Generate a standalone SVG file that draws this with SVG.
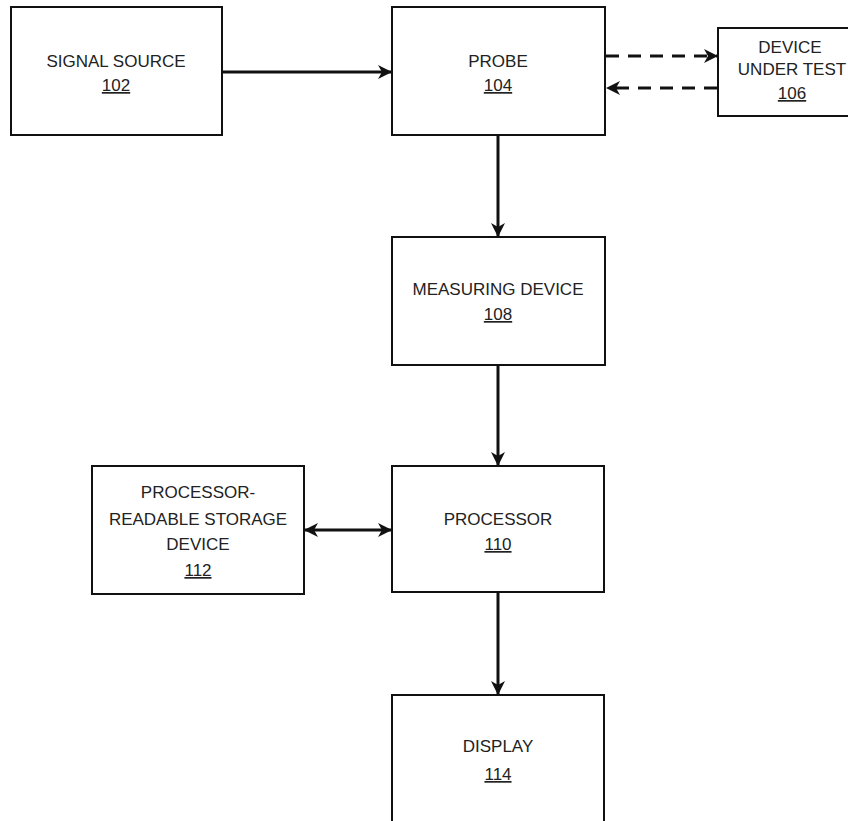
<svg xmlns="http://www.w3.org/2000/svg" width="848" height="821" viewBox="0 0 848 821">
<style>
.box{fill:#fff;stroke:#111;stroke-width:2}
.t{font-family:"Liberation Sans",Arial,sans-serif;font-size:17px;fill:#222;text-anchor:middle}
.n{text-decoration:underline}
.c{stroke:#111;stroke-width:3;fill:none}
.d{stroke:#111;stroke-width:3;fill:none;stroke-dasharray:13 9}
</style>
<defs>
<marker id="ah" viewBox="0 0 14 14" refX="13" refY="7" markerWidth="14" markerHeight="14" markerUnits="userSpaceOnUse" orient="auto-start-reverse">
<path d="M0,0 L14,7 L0,14 L4,7 z" fill="#111"/>
</marker>
</defs>
<rect width="848" height="821" fill="#fff"/>
<g id="connectors">
<line class="c" x1="223" y1="72" x2="391" y2="72" marker-end="url(#ah)"/>
<line class="d" x1="606" y1="56" x2="717" y2="56" marker-end="url(#ah)"/>
<line class="d" x1="717" y1="88" x2="607" y2="88" marker-end="url(#ah)"/>
<line class="c" x1="498" y1="136" x2="498" y2="236" marker-end="url(#ah)"/>
<line class="c" x1="498" y1="365" x2="498" y2="465" marker-end="url(#ah)"/>
<line class="c" x1="305" y1="530" x2="391" y2="530" marker-start="url(#ah)" marker-end="url(#ah)"/>
<line class="c" x1="498" y1="592" x2="498" y2="694" marker-end="url(#ah)"/>
</g>
<g id="n102">
<rect class="box" x="11" y="7" width="211" height="128"/>
<text class="t" x="116" y="67">SIGNAL SOURCE</text>
<text class="t n" x="116" y="91">102</text>
</g>
<g id="n104">
<rect class="box" x="392" y="7" width="213" height="128"/>
<text class="t" x="498" y="67">PROBE</text>
<text class="t n" x="498" y="91">104</text>
</g>
<g id="n106">
<rect class="box" x="718" y="28" width="140" height="88"/>
<text class="t" x="790" y="53">DEVICE</text>
<text class="t" x="792" y="75">UNDER TEST</text>
<text class="t n" x="792" y="99">106</text>
</g>
<g id="n108">
<rect class="box" x="392" y="237" width="213" height="128"/>
<text class="t" x="498" y="295">MEASURING DEVICE</text>
<text class="t n" x="498" y="320">108</text>
</g>
<g id="n110">
<rect class="box" x="392" y="466" width="212" height="126"/>
<text class="t" x="498" y="525">PROCESSOR</text>
<text class="t n" x="498" y="550">110</text>
</g>
<g id="n112">
<rect class="box" x="92" y="466" width="212" height="128"/>
<text class="t" x="198" y="498">PROCESSOR-</text>
<text class="t" x="198" y="525">READABLE STORAGE</text>
<text class="t" x="198" y="550">DEVICE</text>
<text class="t n" x="198" y="576">112</text>
</g>
<g id="n114">
<rect class="box" x="392" y="695" width="212" height="140"/>
<text class="t" x="498" y="752">DISPLAY</text>
<text class="t n" x="498" y="780">114</text>
</g>
</svg>
